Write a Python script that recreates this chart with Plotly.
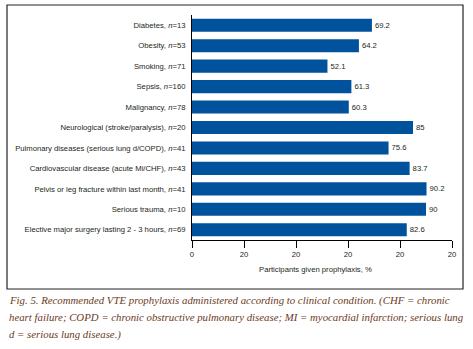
import plotly.graph_objects as go

conditions = [
    "Diabetes", "Obesity", "Smoking", "Sepsis", "Malignancy",
    "Neurological (stroke/paralysis)", "Pulmonary diseases (serious lung d/COPD)",
    "Cardiovascular disease (acute Mi/CHF)", "Pelvis or leg fracture within last month",
    "Serious trauma", "Elective major surgery lasting 2 - 3 hours",
]
n_values = [13, 53, 71, 160, 78, 20, 41, 43, 41, 10, 69]
percent_given = [69.2, 64.2, 52.1, 61.3, 60.3, 85, 75.6, 83.7, 90.2, 90, 82.6]
x_tick_vals = [0, 20, 40, 60, 80, 100]
x_tick_text = ["0", "20", "20", "20", "20", "20"]

labels = [f"{c}, <i>n</i>={n}" for c, n in zip(conditions, n_values)]
value_text = [f"{v:g}" for v in percent_given]

TXT = "#231f20"
BAR = "#00529c"
FONT = "Liberation Sans, Arial, sans-serif"
FS = 7.7

fig = go.Figure(go.Bar(
    x=percent_given, y=labels, orientation="h",
    marker=dict(color=BAR, line=dict(width=0)),
    width=0.64,
    text=value_text, textposition="outside", cliponaxis=False,
    textfont=dict(family=FONT, size=FS, color=TXT),
    hoverinfo="skip",
))

W, H = 473, 349
L, R, T, B = 192, 21, 15, 109
pw, ph = W - L - R, H - T - B

def px(x):
    return (x - L) / pw

def py(y):
    return (H - B - y) / ph

fig.update_layout(
    width=W, height=H,
    margin=dict(l=L, r=R, t=T, b=B, pad=0, autoexpand=False),
    paper_bgcolor="white", plot_bgcolor="white",
    showlegend=False,
    font=dict(family=FONT, size=FS, color=TXT),
    xaxis=dict(
        range=[0, 100], tickvals=x_tick_vals, ticktext=x_tick_text,
        showgrid=False, zeroline=False, showline=True, linecolor="black", linewidth=1,
        ticks="outside", ticklen=7, tickcolor="black", tickwidth=1,
        tickfont=dict(size=FS, color=TXT), automargin=False,
    ),
    yaxis=dict(
        range=[10.5, -0.5], showgrid=False, zeroline=False,
        showline=True, linecolor="black", linewidth=1, ticks="",
        ticklabelstandoff=4, automargin=False,
        tickfont=dict(size=FS, color=TXT),
    ),
    shapes=[dict(
        type="rect", xref="paper", yref="paper",
        x0=px(7), x1=px(463), y0=py(289), y1=py(5),
        line=dict(color="#222222", width=1.2), fillcolor="rgba(0,0,0,0)", layer="below",
    )],
)

fig.add_annotation(
    text="Participants given prophylaxis, %", xref="paper", yref="paper",
    x=px(315), y=py(269), xanchor="center", yanchor="middle", showarrow=False,
    font=dict(size=FS, color=TXT),
)

caption_lines = [
    "Fig. 5. Recommended VTE prophylaxis administered according to clinical condition. (CHF = chronic",
    "heart failure; COPD = chronic obstructive pulmonary disease; MI = myocardial infarction; serious lung",
    "d = serious lung disease.)",
]
for i, line in enumerate(caption_lines):
    fig.add_annotation(
        text=f"<i>{line}</i>", xref="paper", yref="paper",
        x=px(7), y=py(300 + 17 * i), xanchor="left", yanchor="middle", showarrow=False,
        font=dict(family="Liberation Serif, serif", size=10.8, color="#6b3a22"),
    )

fig.write_html("out.html", config={"displayModeBar": False},
               post_script="document.body.style.margin='0';")
